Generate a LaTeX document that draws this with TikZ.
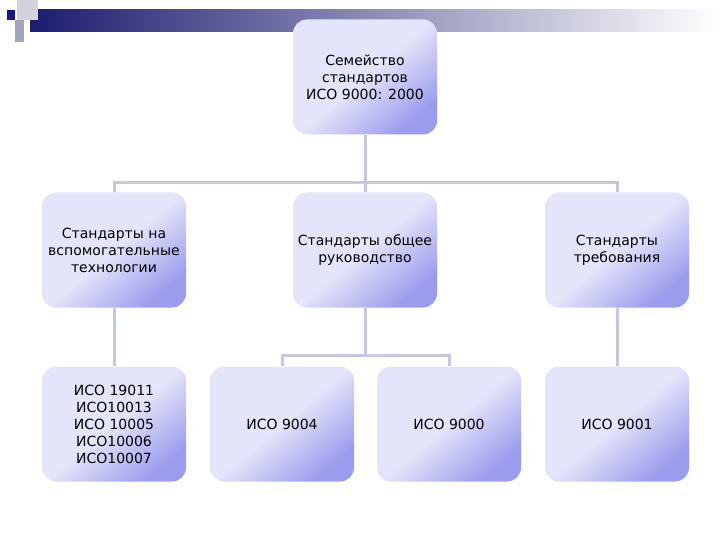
\documentclass[tikz,border=0pt]{standalone}
\usepackage{fontspec}
\setmainfont{DejaVu Sans}
\usetikzlibrary{backgrounds}
\definecolor{lav1}{HTML}{E4E4FA}
\definecolor{lav2}{HTML}{9C9CEE}
\definecolor{linec}{HTML}{C4C8E2}
\definecolor{navy}{HTML}{1C1C70}
\begin{document}
\begin{tikzpicture}[x=1pt,y=-1pt,
  box/.style={rounded corners=14pt,minimum width=144pt,minimum height=115pt,
    inner sep=0pt,align=center,font=\fontsize{14}{17}\selectfont,
    top color=lav1,bottom color=lav2,middle color=lav1,shading angle=40},
  conn/.style={draw=linec,line width=3pt}]
\useasboundingbox (0,0) rectangle (720,540);
% banner
\shade[left color=navy,right color=white] (30,10) rectangle (720,32);
\fill[blue!15!gray!30] (17,0) rectangle (38,20);
\fill[blue!20!gray!60] (15,20) rectangle (24,42);
\fill[navy!80!blue] (7,10) rectangle (15,20);
% nodes
\node[box] (top) at (365,77) {Семейство\\стандартов\\ИСО 9000: 2000};
\node[box] (a) at (114,250) {Стандарты на\\вспомогательные\\технологии};
\node[box] (b) at (365,250) {Стандарты общее\\руководство};
\node[box] (c) at (617,250) {Стандарты\\требования};
\node[box] (a1) at (114,424) {ИСО 19011\\ИСО10013\\ИСО 10005\\ИСО10006\\ИСО10007};
\node[box] (b1) at (282,424) {ИСО 9004};
\node[box] (b2) at (449,424) {ИСО 9000};
\node[box] (c1) at (617,424) {ИСО 9001};
\coordinate (t1) at (365,183);
\coordinate (m1) at (365,355);
% connectors
\begin{scope}[on background layer]
\path[conn] (top.south) -- (b.north);
\path[conn] (a.north) |- (t1) -| (c.north);
\path[conn] (b.south) -- (m1);
\path[conn] (b1.north) |- (m1) -| (b2.north);
\path[conn] (a.south) -- (a1.north);
\path[conn] (c.south) -- (c1.north);
\end{scope}
\end{tikzpicture}
\end{document}
